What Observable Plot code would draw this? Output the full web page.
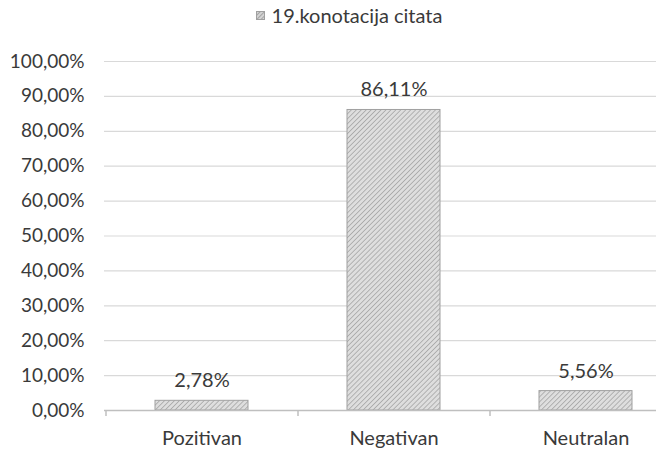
<!DOCTYPE html>
<html>
<head>
<meta charset="utf-8">
<script src="https://cdn.jsdelivr.net/npm/d3@7"></script>
<script src="https://cdn.jsdelivr.net/npm/@observablehq/plot@0.6"></script>
<style>
  html, body { margin: 0; padding: 0; background: #fff; }
  #legend { height: 30px; display: flex; align-items: center; justify-content: center; font-family: Lato, sans-serif; font-size: 20px; color: #3a3a3a; padding-left: 42px; box-sizing: border-box; }
  #legend svg { margin-right: 7px; }
  #chart svg { display: block; }
</style>
</head>
<body>
<div id="legend">
  <svg width="9" height="9"><defs><pattern id="hatchL" width="3" height="3" patternUnits="userSpaceOnUse" patternTransform="rotate(45)"><rect width="3" height="3" fill="#d4d4d4"/><line x1="0" y1="0" x2="0" y2="3" stroke="#8a8a8a" stroke-width="1.3"/></pattern></defs><rect x="0.5" y="0.5" width="8" height="8" fill="url(#hatchL)" stroke="#a0a0a0"/></svg>
  <span>19.konotacija citata</span>
</div>
<div id="chart"></div>
<script>
const categories = ["Pozitivan", "Negativan", "Neutralan"];
const values = [2.78, 86.11, 5.56];
const yTicks = [0, 10, 20, 30, 40, 50, 60, 70, 80, 90, 100];

const data = categories.map((c, i) => ({cat: c, val: values[i]}));
const fmt = v => d3.format(".2f")(v).replace(".", ",") + "%";

const plot = Plot.plot({
  width: 656,
  height: 420,
  marginTop: 31,
  marginBottom: 40,
  marginLeft: 104,
  marginRight: 0,
  style: {fontFamily: "Lato, sans-serif", fontSize: "19px", color: "#3a3a3a", background: "#fff", overflow: "visible"},
  x: {domain: categories, range: [105, 681], paddingInner: 0.516, paddingOuter: 0.258, label: null},
  y: {domain: [0, 100], label: null},
  marks: [
    Plot.ruleY(yTicks.filter(d => d > 0), {stroke: "#d9d9d9", strokeWidth: 1.2}),
    Plot.barY(data, {x: "cat", y: "val", fill: "url(#hatch)", stroke: "#a0a0a0", strokeWidth: 1}),
    Plot.ruleY([0], {stroke: "#bfbfbf", strokeWidth: 1.5}),
    Plot.ruleX(categories, {x: d => d, dx: -96, y1: 0, y2: -1.7, stroke: "#bfbfbf", strokeWidth: 1.5}),
    Plot.text(data, {x: "cat", y: "val", text: d => fmt(d.val), dy: -20, fontSize: 20, fill: "#3a3a3a"}),
    Plot.axisY({ticks: yTicks, tickSize: 0, tickPadding: 20, tickFormat: fmt, fontSize: 19, label: null}),
    Plot.axisX({tickSize: 0, tickPadding: 20, fontSize: 20, label: null})
  ]
});

const ns = "http://www.w3.org/2000/svg";
const defs = document.createElementNS(ns, "defs");
defs.innerHTML = '<pattern id="hatch" width="3.5" height="3.5" patternUnits="userSpaceOnUse" patternTransform="rotate(45)"><rect width="3.5" height="3.5" fill="#dedede"/><line x1="0" y1="0" x2="0" y2="3.5" stroke="#8c8c8c" stroke-width="1.1"/></pattern>';
plot.insertBefore(defs, plot.firstChild);
document.getElementById("chart").appendChild(plot);
</script>
</body>
</html>
